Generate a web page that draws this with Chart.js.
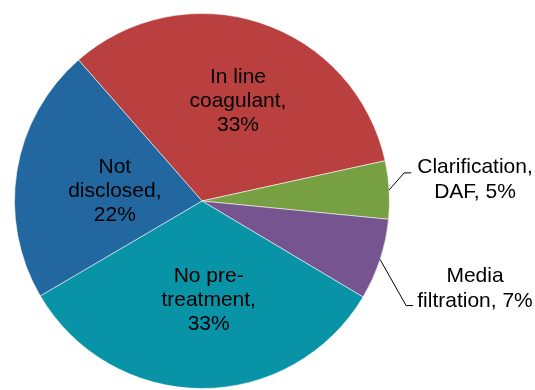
<!DOCTYPE html>
<html>
<head>
<meta charset="utf-8">
<script src="https://cdn.jsdelivr.net/npm/chart.js@4.4.1/dist/chart.umd.min.js"></script>
<style>
  html, body { margin: 0; padding: 0; background: #fff; overflow: hidden; }
  #wrap { width: 535px; height: 390px; position: relative; }
</style>
</head>
<body>
<div id="wrap"><canvas id="c" width="535" height="390"></canvas></div>
<script>
// Pre-treatment approach shares (%)
const categories = ['In line coagulant', 'Clarification, DAF', 'Media filtration', 'No pre-treatment', 'Not disclosed'];
const values = [33, 5, 7, 33, 22];

// Wrapped label text for each slice (value is appended when drawn)
const labelLines = [
  ['In line', 'coagulant,'],
  ['Clarification,', 'DAF,'],
  ['Media', 'filtration,'],
  ['No pre-', 'treatment,'],
  ['Not', 'disclosed,']
];

const sliceColors = ['#B9403E', '#77A043', '#76548F', '#0893A6', '#22679F'];

// Label placement styles: inside labels sit along the slice bisector,
// outside labels hang off a leader line.
const labelStyle = [
  { inside: true, frac: 0.563, dx: 3, dy: 0 },
  { inside: false, knee: [15, -17], textX: 475, lineOffsets: [0, 25] },
  { inside: false, knee: [26, 46], textX: 475, lineOffsets: [-24, 1] },
  { inside: true, frac: 0.53, dx: 7, dy: 0 },
  { inside: true, frac: 0.471, dx: 0, dy: 4 }
];

const FONT = '21px "Liberation Sans", Arial, sans-serif';
const LINE_H = 24;

const sliceLabels = {
  id: 'sliceLabels',
  afterDatasetsDraw(chart) {
    const ctx = chart.ctx;
    const meta = chart.getDatasetMeta(0);
    ctx.save();
    ctx.font = FONT;
    ctx.fillStyle = '#000';
    ctx.strokeStyle = '#000';
    ctx.lineWidth = 1;
    ctx.textAlign = 'center';
    meta.data.forEach((arc, i) => {
      const p = arc.getProps(['x', 'y', 'startAngle', 'endAngle', 'outerRadius'], true);
      const mid = (p.startAngle + p.endAngle) / 2;
      const st = labelStyle[i];
      const pct = values[i] + '%';
      if (st.inside) {
        const lines = labelLines[i].concat([pct]);
        const r = p.outerRadius * st.frac;
        const cx = p.x + Math.cos(mid) * r + st.dx;
        const cy = p.y + Math.sin(mid) * r + st.dy;
        ctx.textBaseline = 'middle';
        const n = lines.length;
        lines.forEach((t, k) => {
          ctx.fillText(t, cx, cy + (k - (n - 1) / 2) * LINE_H);
        });
      } else {
        const lines = labelLines[i].slice();
        lines[lines.length - 1] = lines[lines.length - 1] + ' ' + pct;
        const sx = p.x + Math.cos(mid) * p.outerRadius;
        const sy = p.y + Math.sin(mid) * p.outerRadius;
        const kx = sx + st.knee[0];
        const ky = sy + st.knee[1];
        ctx.beginPath();
        ctx.moveTo(sx, sy);
        ctx.lineTo(kx, ky);
        ctx.lineTo(kx + 7, ky);
        ctx.stroke();
        ctx.textBaseline = 'alphabetic';
        lines.forEach((t, k) => {
          ctx.fillText(t, st.textX, ky + st.lineOffsets[k]);
        });
      }
    });
    ctx.restore();
  }
};

new Chart(document.getElementById('c'), {
  type: 'pie',
  data: {
    labels: categories,
    datasets: [{
      data: values,
      backgroundColor: sliceColors,
      borderColor: 'rgba(255,255,255,0.55)',
      borderWidth: 1
    }]
  },
  options: {
    responsive: false,
    animation: false,
    rotation: -41.2,
    layout: { padding: { top: 13, bottom: 1, left: 14, right: 145 } },
    plugins: {
      legend: { display: false },
      tooltip: { enabled: false },
      title: { display: false }
    }
  },
  plugins: [sliceLabels]
});
</script>
</body>
</html>
